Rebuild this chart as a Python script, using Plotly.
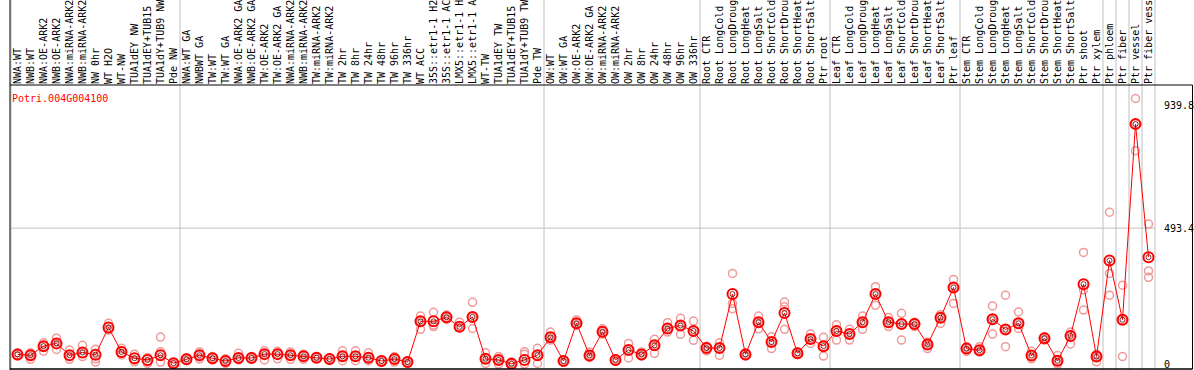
import plotly.graph_objects as go

gene_id = "Potri.004G004100"

categories = [
    "NWA:WT", "NWB:WT", "NWA:OE-ARK2", "NWB:OE-ARK2", "NWA:miRNA-ARK2", "NWB:miRNA-ARK2",
    "NW 0hr", "WT H2O", "WT-NW", "TUA1dEY NW", "TUA1dEY+TUB15", "TUA1dY+TUB9 NW", "Pde NW",
    "NWA:WT GA", "NWBWT GA", "TW:WT", "TW:WT GA", "NWA:OE-ARK2 GA", "NWB:OE-ARK2 GA",
    "TW:OE-ARK2", "TW:OE-ARK2 GA", "NWA:miRNA-ARK2 ", "NWB:miRNA-ARK2 ", "TW:miRNA-ARK2",
    "TW:miRNA-ARK2 ", "TW 2hr", "TW 8hr", "TW 24hr", "TW 48hr", "TW 96hr", "TW 336hr",
    "WT ACC", "35S::etr1-1 H2O", "35S::etr1-1 ACC", "LMX5::etr1-1 H2O", "LMX5::etr1-1 ACC",
    "WT-TW", "TUA1dEY TW", "TUA1dEY+TUB15 TW", "TUA1dY+TUB9 TW", "Pde TW",
    "OW:WT", "OW:WT GA", "OW:OE-ARK2", "OW:OE-ARK2 GA", "OW:miRNA-ARK2", "OW:miRNA-ARK2 ",
    "OW 2hr", "OW 8hr", "OW 24hr", "OW 48hr", "OW 96hr", "OW 336hr",
    "Root CTR", "Root LongCold", "Root LongDrought", "Root LongHeat", "Root LongSalt",
    "Root ShortCold", "Root ShortDrought", "Root ShortHeat", "Root ShortSalt", "Ptr root",
    "Leaf CTR", "Leaf LongCold", "Leaf LongDrought", "Leaf LongHeat", "Leaf LongSalt",
    "Leaf ShortCold", "Leaf ShortDrought", "Leaf ShortHeat", "Leaf ShortSalt", "Ptr leaf",
    "Stem CTR", "Stem LongCold", "Stem LongDrought", "Stem LongHeat", "Stem LongSalt",
    "Stem ShortCold", "Stem ShortDrought", "Stem ShortHeat", "Stem ShortSalt", "Ptr shoot",
    "Ptr xylem", "Ptr phloem", "Ptr fiber", "Ptr vessel", "Ptr fiber vessel",
]

group_sizes = [13, 28, 12, 10, 10, 11, 1, 1, 1, 1]

means = [
    35, 32, 65, 75, 32, 42, 34, 133, 44, 21, 15, 32, 3,
    17, 32, 21, 11, 22, 22, 36, 36, 32, 28, 23, 18, 28, 28, 23, 11, 18, 7,
    155, 155, 170, 135, 171, 19, 15, 1, 15, 32,
    97, 11, 148, 31, 117, 15, 51, 35, 68, 129, 140, 120,
    58, 58, 254, 35, 152, 80, 185, 39, 91, 65,
    120, 109, 152, 254, 152, 145, 145, 71, 168, 278,
    56, 50, 163, 125, 148, 31, 94, 12, 102, 290, 27,
    376, 161, 871, 388,
]

replicates = [
    [41, 29, 35], [41, 17, 32], [77, 47, 65], [94, 53, 72], [51, 17, 30], [68, 27, 38],
    [54, 19, 7], [148, 126, 123], [57, 39, 33], [36, 15, 8], [24, 7, 2], [98, 45, 7],
    [5, 0, 2],
    [24, 12, 17], [44, 19, 32], [27, 15, 21], [19, 2, 11], [39, 15, 22], [27, 19, 22],
    [48, 15, 36], [46, 19, 36], [44, 17, 32], [36, 17, 28], [27, 19, 23], [23, 13, 18],
    [48, 12, 28], [48, 12, 28], [41, 12, 23], [15, 7, 11], [27, 7, 18], [12, 2, 7],
    [174, 126, 155], [188, 142, 136], [178, 162, 170], [152, 132, 136], [224, 129, 171],
    [41, 2, 19], [27, 0, 15], [7, 0, 0], [45, 36, 0], [57, 2, 32],
    [116, 87, 97], [15, 7, 11], [160, 140, 148], [44, 24, 31], [128, 109, 117],
    [19, 10, 15], [75, 22, 51], [44, 29, 35], [90, 39, 68], [150, 116, 129],
    [166, 108, 140], [156, 86, 120],
    [65, 48, 58], [77, 31, 58], [329, 220, 201], [41, 29, 35], [174, 128, 152],
    [99, 56, 80], [225, 208, 126], [44, 34, 39], [109, 75, 91], [97, 29, 65],
    [143, 87, 120], [126, 87, 109], [174, 126, 152], [281, 213, 254], [169, 136, 152],
    [184, 87, 145], [152, 136, 145], [80, 56, 71], [179, 148, 168], [307, 220, 278],
    [63, 46, 56], [63, 44, 50], [211, 109, 163], [250, 63, 125], [189, 129, 148],
    [46, 19, 31], [99, 87, 94], [31, 0, 12], [116, 73, 102], [405, 269, 196],
    [36, 8, 27],
    [551, 329, 250], [286, 27, 161], [964, 774, 871], [508, 338, 315],
]

y_tick_vals = [0, 493.4, 939.8]
y_tick_text = ["0", "493.4", "939.8"]
y_range = [-18, 1013]

W, H = 1194, 370
ML, MR, MT, MB = 11, 39, 85, 1
PW, PH = W - ML - MR, H - MT - MB
FONT = "DejaVu Sans Mono, Liberation Mono, monospace"

rep_x, rep_y = [], []
for cat, reps in zip(categories, replicates):
    for v in reps:
        rep_x.append(cat)
        rep_y.append(v)

fig = go.Figure()
fig.add_trace(go.Scatter(
    x=rep_x, y=rep_y, mode="markers",
    marker=dict(symbol="circle-open", size=8, color="#f09a9a", line=dict(width=1.5, color="#f09a9a")),
    hoverinfo="skip", showlegend=False,
))
fig.add_trace(go.Scatter(
    x=categories, y=means, mode="lines",
    line=dict(color="#ff0000", width=1), showlegend=False,
))
fig.add_trace(go.Scatter(
    x=categories, y=means, mode="markers",
    marker=dict(symbol="circle-open", size=10, color="#ff0000", line=dict(width=2, color="#ff0000")),
    showlegend=False,
))
fig.add_trace(go.Scatter(
    x=categories, y=means, mode="markers",
    marker=dict(symbol="circle-open", size=5, color="#600000", line=dict(width=0.8, color="#600000")),
    hoverinfo="skip", showlegend=False,
))

n = len(categories)
top_paper = (H) / PH
shapes = []
b = 0
bounds = [0]
for g in group_sizes:
    b += g
    bounds.append(b)
for k in bounds:
    shapes.append(dict(type="line", xref="paper", yref="paper", x0=k / n, x1=k / n,
                       y0=-0.01, y1=top_paper, line=dict(color="#c0c0c0", width=1), layer="below"))
shapes.append(dict(type="line", xref="paper", yref="y", x0=0, x1=1, y0=y_tick_vals[1], y1=y_tick_vals[1],
                   line=dict(color="#c0c0c0", width=1), layer="below"))
right_paper = (W - 1.5 - ML) / PW
left_paper = -1.0 / PW
shapes.append(dict(type="line", xref="paper", yref="paper", x0=left_paper, x1=left_paper,
                   y0=-0.01, y1=top_paper, line=dict(color="black", width=1)))
shapes.append(dict(type="line", xref="paper", yref="paper", x0=left_paper, x1=right_paper,
                   y0=1, y1=1, line=dict(color="black", width=1)))
shapes.append(dict(type="line", xref="paper", yref="paper", x0=left_paper, x1=right_paper,
                   y0=0, y1=0, line=dict(color="black", width=1.5)))
shapes.append(dict(type="line", xref="paper", yref="paper", x0=right_paper, x1=right_paper,
                   y0=0, y1=1, line=dict(color="black", width=1)))

fig.update_layout(
    width=W, height=H,
    margin=dict(l=ML, r=MR, t=MT, b=MB, pad=0),
    paper_bgcolor="white", plot_bgcolor="white",
    shapes=shapes,
    hovermode=False,
    font=dict(family=FONT, size=10, color="black"),
    xaxis=dict(
        type="category", categoryorder="array", categoryarray=categories,
        range=[-0.5, n - 0.5], side="top", tickangle=-90,
        tickmode="array", tickvals=categories, ticktext=[c.strip() for c in categories],
        showgrid=False, zeroline=False, showline=False, ticks="", automargin=False,
        tickfont=dict(family=FONT, size=10, color="black"),
    ),
    yaxis=dict(
        range=y_range, side="right", tickmode="array", tickvals=y_tick_vals, ticktext=y_tick_text,
        showgrid=False, zeroline=False, showline=False, ticks="outside", ticklen=6,
        tickcolor="rgba(0,0,0,0)", automargin=False,
        tickfont=dict(family=FONT, size=10, color="black"),
    ),
    annotations=[dict(
        text=gene_id, xref="paper", yref="paper", x=left_paper, y=(369 - 98) / PH,
        xanchor="left", yanchor="middle", showarrow=False,
        font=dict(family=FONT, size=10, color="#ff0000"),
    )],
)

fig.write_html(
    "out.html",
    config={"displayModeBar": False, "staticPlot": True},
    post_script="document.body.style.margin='0';document.body.style.overflow='hidden';",
)
